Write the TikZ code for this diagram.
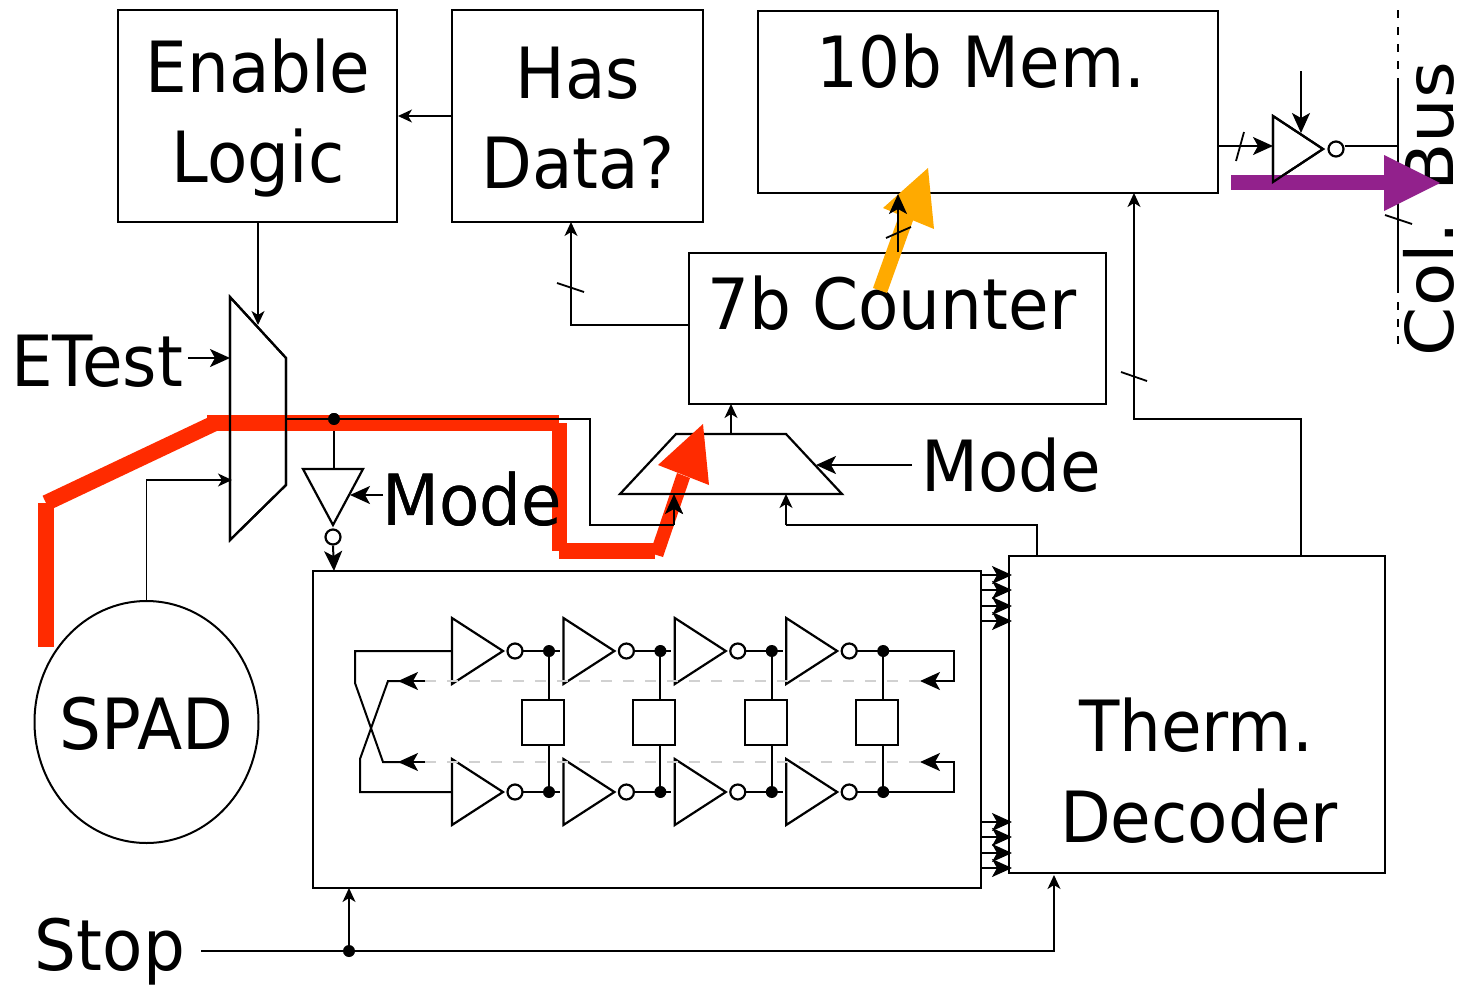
\documentclass[tikz,border=0pt]{standalone}
\usepackage{fontspec}
\setmainfont{DejaVu Sans}
\usetikzlibrary{arrows.meta,calc,shapes.geometric}
\definecolor{redpath}{RGB}{255,43,0}
\definecolor{orangepath}{RGB}{255,170,0}
\definecolor{purplepath}{RGB}{146,33,140}
\tikzset{
  wire/.style={draw=black,line width=2pt},
  thinwire/.style={draw=black,line width=1.4pt},
  arr/.style={wire,-{Stealth[length=20pt,width=18pt,inset=5pt]}},
  arrsm/.style={thinwire,-{Stealth[length=14pt,width=13pt,inset=4pt]}},
  blockbox/.style={draw=black,line width=2pt,fill=white,inner sep=0pt},
  lbl/.style={inner sep=0pt,anchor=base,font=\fontsize{66}{70}\selectfont,yscale=1.07},
  gate/.style={draw=black,line width=2.2pt,fill=white,line join=miter},
  bubble/.style={circle,draw=black,line width=2.2pt,fill=white,minimum size=15pt,inner sep=0pt},
  jdot/.style={circle,fill=black,minimum size=12pt,inner sep=0pt},
  ghost/.style={draw=black!18,line width=2pt,dash pattern=on 11pt off 11pt},
  slash/.style={draw=black,line width=1.8pt},
  red seg/.style={draw=redpath,line width=16pt},
}
\begin{document}
\begin{tikzpicture}[x=1pt,y=-1pt]
\useasboundingbox (0,0) rectangle (1460,989);
% blocks
\node[blockbox,minimum width=279pt,minimum height=212pt] (enable) at (257.5,116) {};
\node[blockbox,minimum width=251pt,minimum height=212pt] (hasdata) at (577.5,116) {};
\node[blockbox,minimum width=460pt,minimum height=182pt] (mem) at (988,102) {};
\node[blockbox,minimum width=417pt,minimum height=151pt] (counter) at (897.5,328.5) {};
\node[blockbox,minimum width=376pt,minimum height=317pt] (therm) at (1197,714.5) {};
\node[blockbox,minimum width=668pt,minimum height=317pt] (osc) at (647,729.5) {};
\node[blockbox,ellipse,minimum width=224pt,minimum height=242pt] (spad) at (146.5,722) {};
% muxes
\draw[gate] (230,297) -- (286,358) -- (286,485) -- (230,540) -- cycle;
\draw[gate] (620,494) -- (676,434) -- (786,434) -- (842,494) -- cycle;
\coordinate (muxa) at (258,325);
\coordinate (muxaout) at (286,419);
\coordinate (muxb) at (674,494);
\coordinate (muxc) at (786,494);
\coordinate (muxtop) at (731,434);
% inverter under the net
\draw[gate] (303,469) -- (363,469) -- (333,525) -- cycle;
\node[bubble] (enbub) at (333,537) {};
% upper connections
\draw[arrsm] (hasdata.west) -- (enable.east);
\draw[arrsm] (enable.south -| muxa) -- (muxa);
\node[lbl] (etest) at (97,386) {ETest};
\coordinate (etestend) at (230,358);
\draw[arr] (188,358) -- (etestend);
\draw[arrsm] (spad.north) -- (146.5,480) -- (232,480);
\node[jdot] (net) at (334,419) {};
\draw[wire] (muxaout) -- (590,419) -- (590,525) -- (674,525);
\draw[arr] (674,525) -- (muxb);
\draw[wire] (net) -- (334,469);
\draw[arr] (enbub.south) -- (334,571);
\node[lbl] (modea) at (472,525) {Mode};
\draw[arr] (383,495) -- (350,495);
\draw[arrsm] (muxtop) -- (731,404);
\node[lbl] (modeb) at (1011,491) {Mode};
\draw[arr] (912,465) -- (816,465);
\draw[wire] (1037,556) -- (1037,525) -- (786,525);
\draw[arrsm] (786,525) -- (muxc);
\draw[arrsm] (1301,556) -- (1301,419) -- (1134,419) -- (1134,193);
\draw[slash] (1121,372) -- (1147,381);
\draw[arrsm] (689,325) -- (571,325) -- (571,222);
\draw[slash] (557,283) -- (584,292);
% output driver
\draw[arr] (1218,146) -- (1273,146);
\draw[slash] (1236,161) -- (1244,132);
\draw[gate] (1273,116) -- (1273,182) -- (1323,149) -- cycle;
\node[bubble] (outbub) at (1336,149) {};
\draw[arr] (1301,71) -- (1301,133);
\draw[wire] ($(outbub.east)+(0,-3)$) -- (1398,146);
\draw[wire] (1398,85) -- (1398,285);
\draw[wire,dash pattern=on 8pt off 9pt] (1398,10) -- (1398,85);
\draw[wire,dash pattern=on 8pt off 9pt] (1398,285) -- (1398,345);
\draw[slash] (1385,215) -- (1412,224);
% stop
\node[lbl] (stop) at (110,970) {Stop};
\node[jdot] (stopdot) at (349,951) {};
\draw[arrsm] (201,951) -- (1054,951) -- (1054,875);
\draw[arrsm] (stopdot) -- (349,888);
% oscillator
\foreach \i/\dx in {0/0,1/111.4,2/222.8,3/334.2}{
  \begin{scope}[shift={(\dx,0)}]
    \draw[wire] (515,651) -- (560,651);
    \draw[wire] (515,792) -- (560,792);
    \draw[gate] (452,618) -- (452,684) -- (503,651) -- cycle;
    \draw[gate] (452,759) -- (452,825) -- (503,792) -- cycle;
    \node[bubble] (bu\i) at (515,651) {};
    \node[bubble] (bl\i) at (515,792) {};
    \node[jdot] (du\i) at (549,651) {};
    \node[jdot] (dl\i) at (549,792) {};
    \node[blockbox,minimum width=42pt,minimum height=45pt] (cell\i) at (543,722.5) {};
    \draw[wire] (du\i) -- (549,700);
    \draw[wire] (549,745) -- (dl\i);
  \end{scope}
}
\draw[ghost] (425,681) -- (920,681);
\draw[ghost] (425,762) -- (920,762);
\draw[wire] (du3) -- (954,651) -- (954,681) -- (940,681);
\draw[wire] (dl3) -- (954,792) -- (954,762) -- (940,762);
\draw[arr] (942,681) -- (920,681);
\draw[arr] (942,762) -- (920,762);
\draw[wire] (452,651) -- (355,651) -- (355,683) -- (383,762) -- (405,762);
\draw[wire] (452,792) -- (360,792) -- (360,759) -- (388,681) -- (405,681);
\draw[arr] (425,681) -- (398,681);
\draw[arr] (425,762) -- (398,762);
% thermometer bus
\foreach \y in {575,590,606,621,822,837,853,868}{
  \draw[arr] (981,\y) -- (1012,\y);
}
% text in blocks
\node[lbl] (t1) at (258,92) {Enable};
\node[lbl] (t2) at (258,182) {Logic};
\node[lbl] (t3) at (578,98) {Has};
\node[lbl] (t4) at (578,188) {Data?};
\node[lbl] (t5) at (981,87) {10b Mem.};
\node[lbl] (t6) at (892,329) {7b Counter};
\node[lbl] (t7) at (146.5,749) {SPAD};
\node[lbl] (t8) at (1196,751) {Therm.};
\node[lbl] (t9) at (1199,842) {Decoder};
\node[lbl,rotate=90] (t10) at (1453,209) {Col. Bus};
% highlighted paths
\fill[redpath] (38,647) rectangle (54,503);
\coordinate (r1) at (46,503);
\coordinate (r2) at (215,423);
\draw[red seg] (r1) -- (r2);
\fill[redpath] (207,415) rectangle (559,431);
\fill[redpath] (552,423) rectangle (567,551);
\fill[redpath] (559,543) rectangle (655,559);
\fill[redpath] (650,553) -- (663,557) -- (690,478) -- (677,473) -- cycle;
\fill[redpath] (703,424) -- (658,465) -- (709,485) -- cycle;
\fill[orangepath] (873,288) -- (887,293) -- (915,215) -- (901,210) -- cycle;
\fill[orangepath] (928,168) -- (883,208) -- (934,229) -- cycle;
\fill[purplepath] (1231,175) rectangle (1385,190);
\fill[purplepath] (1384,155) -- (1384,211) -- (1440,183) -- cycle;
% wires drawn over highlights
\draw[wire] (muxaout) -- (590,419);
\draw[gate,fill=none] (230,297) -- (286,358) -- (286,485) -- (230,540) -- cycle;
\node[jdot] at (334,419) {};
\draw[arr] (counter.north -| 898,0) -- (mem.south -| 898,0);
\draw[slash] (886,238) -- (911,227);
\draw[wire] (620,494) -- (842,494);
\draw[wire] (590,525) -- (674,525);
\draw[arr] (674,525) -- (muxb);
\draw[gate,fill=none] (1273,116) -- (1273,182) -- (1323,149) -- cycle;
\node[lbl] at (472,525) {Mode};
\end{tikzpicture}
\end{document}
